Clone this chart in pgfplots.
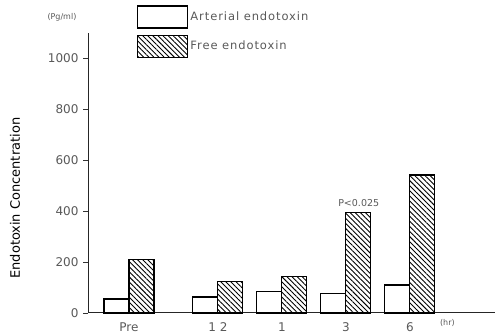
\documentclass[border=0pt]{standalone}
\usepackage{pgfplots}
\pgfplotsset{compat=1.18}
\usepackage{fontspec}
\setmainfont{DejaVu Sans}
\usetikzlibrary{patterns.meta}
\definecolor{txt}{gray}{0.35}
\begin{document}
\begin{tikzpicture}
\path[use as bounding box] (0pt,0pt) rectangle (498pt,336pt);
\begin{axis}[
  at={(88pt,23pt)}, anchor=south west,
  scale only axis, width=407pt, height=280pt,
  xmin=-1.03, xmax=5.33, ymin=0, ymax=1100,
  axis lines=left, axis line style={-, line width=1pt, black!85},
  ybar=0pt, bar width=25pt,
  xtick={-0.39,1,2,3,4}, xticklabels={Pre,1 2,1,3,6},
  xtick style={draw=none},
  ytick={0,200,400,600,800,1000},
  tick align=outside, major tick length=5pt,
  ytick style={line width=0.8pt, black!80},
  /pgf/number format/assume math mode=true,
  /pgf/number format/1000 sep={},
  tick label style={font=\fontsize{12}{13}\selectfont, text=txt},
  yticklabel style={xshift=-1pt},
  xticklabel style={yshift=-1pt},
  ylabel={Endotoxin Concentration},
  ylabel style={at={(axis description cs:-0.179,0.41)}, anchor=center, font=\fontsize{13}{14}\selectfont},
  legend cell align=left,
  legend image code/.code={\draw[#1, line width=1.4pt] (0pt,-11pt) rectangle (50pt,11pt);},
  legend style={draw=none, fill=none, at={(axis description cs:0.12,1.1)}, anchor=north west,
    inner sep=0pt, row sep=6pt, font=\fontsize{11.5}{12}\selectfont\addfontfeature{LetterSpace=8}, text=txt,
    nodes={inner sep=2pt}},
  clip=false,
]
\addplot[draw=black, line width=1.1pt, fill=white] coordinates
  {(-0.39,55) (1,63) (2,86) (3,78) (4,110)};
\addlegendentry{Arterial endotoxin}
\addplot[draw=black, line width=1.1pt, pattern={Lines[angle=-45,distance=3.6pt,line width=0.9pt]}] coordinates
  {(-0.39,210) (1,125) (2,145) (3,395) (4,542)};
\addlegendentry{Free endotoxin}
\node[anchor=south, font=\fontsize{9.5}{10}\selectfont, text=txt] at (axis cs:3.2,405) {P<0.025};
\node[font=\fontsize{8}{9}\selectfont, text=txt] at (axis description cs:-0.064,1.057) {(Pg/ml)};
\node[font=\fontsize{8}{9}\selectfont, text=txt] at (axis description cs:0.883,-0.036) {(hr)};
\end{axis}
\end{tikzpicture}
\end{document}
